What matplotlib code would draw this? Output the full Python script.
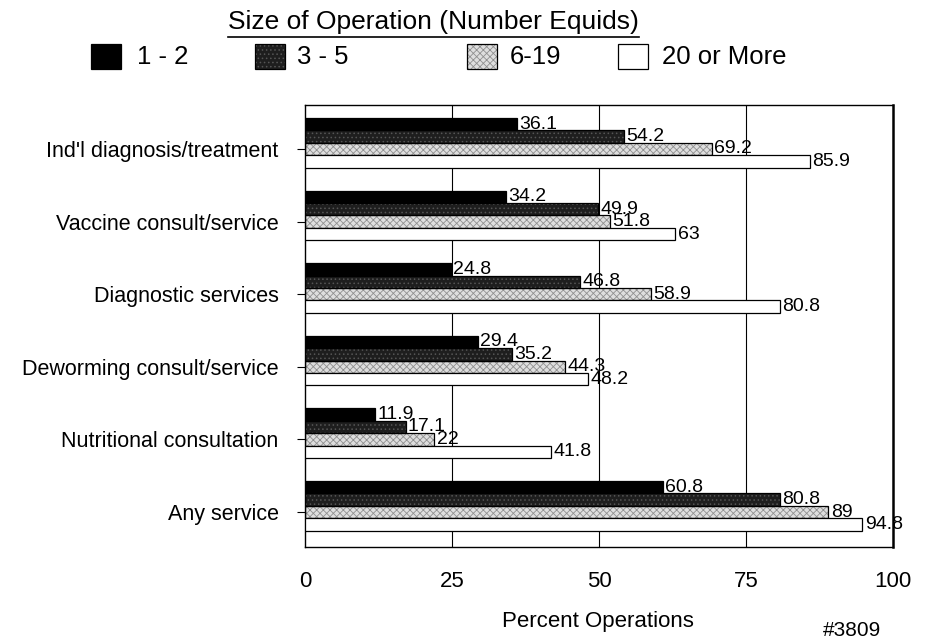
import numpy as np
import matplotlib.pyplot as plt
from matplotlib.patches import Rectangle
from matplotlib.lines import Line2D

plt.rcParams['font.family'] = ['Liberation Sans', 'DejaVu Sans']
plt.rcParams['hatch.linewidth'] = 0.6

# Data
services = ["Ind'l diagnosis/treatment", "Vaccine consult/service", "Diagnostic services",
            "Deworming consult/service", "Nutritional consultation", "Any service"]
size_labels = ["1 - 2", "3 - 5", "6-19", "20 or More"]
ops_1_2 = [36.1, 34.2, 24.8, 29.4, 11.9, 60.8]
ops_3_5 = [54.2, 49.9, 46.8, 35.2, 17.1, 80.8]
ops_6_19 = [69.2, 51.8, 58.9, 44.3, 22, 89]
ops_20_plus = [85.9, 63, 80.8, 48.2, 41.8, 94.8]
x_ticks = [0, 25, 50, 75, 100]

series = [ops_1_2, ops_3_5, ops_6_19, ops_20_plus]
faces = ["black", "#1e1e1e", "#dedede", "white"]
hatches = [None, "....", "xxxxx", None]
hatch_cols = [None, "#555555", "#909090", None]

W, H = 929, 643
fig = plt.figure(figsize=(W / 100, H / 100), dpi=100)
ax = fig.add_axes([305 / W, 1 - 547 / H, 588 / W, 442 / H])

h = 0.171
y = np.arange(len(services))
for k, vals in enumerate(series):
    pos = y + (k - 2) * h
    if hatches[k]:
        ax.barh(pos, vals, height=h, color=faces[k], hatch=hatches[k],
                edgecolor=hatch_cols[k], linewidth=0, zorder=2)
        ax.barh(pos, vals, height=h, fill=False, edgecolor="black", linewidth=0.9, zorder=3)
    else:
        ax.barh(pos, vals, height=h, color=faces[k], edgecolor="black", linewidth=0.9, zorder=3)
    for p, v in zip(pos, vals):
        ax.text(v + 0.4, p, f"{v:g}", ha="left", va="center", fontsize=14, zorder=4)

ax.set_xlim(0, 100)
ax.set_ylim(5.482, -0.606)
ax.set_xticks(x_ticks)
ax.set_xticklabels([str(t) for t in x_ticks], fontsize=16)
ax.tick_params(axis="x", length=0, pad=17)
ax.set_yticks(y)
ax.set_yticklabels(services, fontsize=15.5)
ax.tick_params(axis="y", direction="out", length=6, width=0.8, pad=13)
for xv in x_ticks[1:-1]:
    ax.axvline(xv, color="black", linewidth=0.8, zorder=1)
for s in ax.spines.values():
    s.set_linewidth(1.0)
ax.spines["right"].set_linewidth(1.8)

fig.text(598 / W, 1 - 621 / H, "Percent Operations", ha="center", va="center", fontsize=16)
fig.text(852 / W, 1 - 630 / H, "#3809", ha="center", va="center", fontsize=15)

# title with underline
title = fig.text(228 / W, 1 - 22 / H, "Size of Operation (Number Equids)",
                 ha="left", va="center", fontsize=19)
fig.canvas.draw()
bb = title.get_window_extent().transformed(fig.transFigure.inverted())
fig.add_artist(Line2D([bb.x0, bb.x1], [bb.y0 - 0.004, bb.y0 - 0.004],
                      transform=fig.transFigure, color="black", linewidth=1.2))

# legend
sq_x = [91, 255, 467, 618]
txt_x = [137, 297, 510, 662]
for k in range(4):
    kw = dict(facecolor=faces[k], edgecolor="black", linewidth=0.9)
    if hatches[k]:
        fig.add_artist(Rectangle((sq_x[k] / W, 1 - 69 / H), 30 / W, 25 / H,
                                 transform=fig.transFigure, facecolor=faces[k],
                                 hatch=hatches[k], edgecolor=hatch_cols[k], linewidth=0))
        kw = dict(fill=False, edgecolor="black", linewidth=0.9)
    fig.add_artist(Rectangle((sq_x[k] / W, 1 - 69 / H), 30 / W, 25 / H,
                             transform=fig.transFigure, **kw))
    fig.text(txt_x[k] / W, 1 - 57 / H, size_labels[k], ha="left", va="center", fontsize=18.5)

fig.savefig("out.png", dpi=100)
